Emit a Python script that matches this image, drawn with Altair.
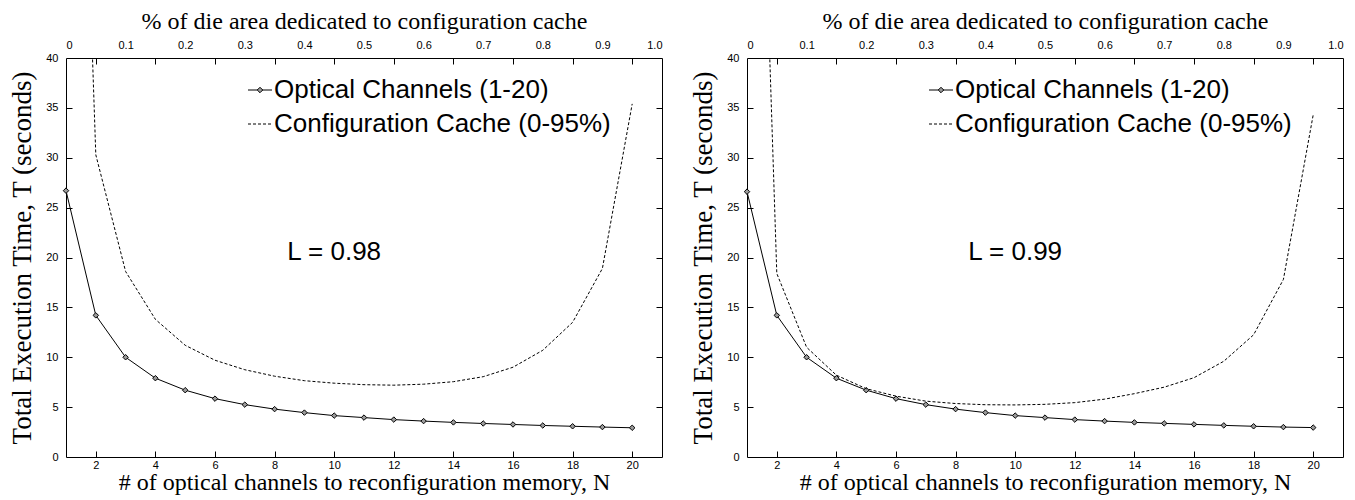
import altair as alt
import pandas as pd

# ---------------- data ----------------
N = list(range(1, 21))
opt_098 = [26.7, 14.2, 10.0, 7.9, 6.7, 5.85, 5.25, 4.8, 4.45, 4.15,
           3.95, 3.75, 3.6, 3.47, 3.36, 3.26, 3.16, 3.08, 3.0, 2.93]
opt_099 = [26.6, 14.2, 10.0, 7.9, 6.7, 5.85, 5.25, 4.8, 4.45, 4.15,
           3.95, 3.75, 3.6, 3.47, 3.37, 3.27, 3.17, 3.08, 3.0, 2.95]

cache_frac = [0.0, 0.05, 0.10, 0.15, 0.20, 0.25, 0.30, 0.35, 0.40, 0.45,
              0.50, 0.55, 0.60, 0.65, 0.70, 0.75, 0.80, 0.85, 0.90, 0.95]
cache_098 = [118.0, 30.3, 18.6, 13.8, 11.2, 9.7, 8.75, 8.1, 7.65, 7.4,
             7.25, 7.2, 7.3, 7.55, 8.05, 9.0, 10.7, 13.5, 18.9, 35.4]
cache_099 = [110.0, 18.4, 11.0, 8.2, 6.85, 6.1, 5.6, 5.36, 5.24, 5.22,
             5.28, 5.45, 5.8, 6.35, 7.0, 7.95, 9.6, 12.25, 17.8, 34.3]

x_tick_values = [2, 4, 6, 8, 10, 12, 14, 16, 18, 20]
top_tick_values = [0, 0.1, 0.2, 0.3, 0.4, 0.5, 0.6, 0.7, 0.8, 0.9, 1.0]
y_label_values = [0, 5, 10, 15, 20, 25, 30, 35, 40]
y_inner_ticks = [5, 10, 15, 20, 25, 30, 35]

legend_labels = ["Optical Channels (1-20)", "Configuration Cache (0-95%)"]
annotations = ["L = 0.98", "L = 0.99"]
annotation_pos = (10.0, 20.6)  # (N, T) where the label sits

x_title = "# of optical channels to reconfiguration memory, N"
y_title = "Total Execution Time, T (seconds)"
top_title = "% of die area dedicated to configuration cache"

SERIF = "Liberation Serif"
SANS = "Liberation Sans"
W, H = 596, 399


def panel(opt, cache, ann):
    df_opt = pd.DataFrame({"N": N, "T": opt})
    df_cache = pd.DataFrame({"f": cache_frac, "T": cache})
    df_ann = pd.DataFrame({"N": [annotation_pos[0]], "T": [annotation_pos[1]], "txt": [ann]})

    xN = alt.Scale(domain=[1, 21], nice=False, zero=False)
    xF = alt.Scale(domain=[0, 1], nice=False, zero=False)
    yS = alt.Scale(domain=[0, 40], nice=False)

    line = alt.Chart(df_opt).mark_line(color="black", strokeWidth=1).encode(
        x=alt.X("N:Q", scale=xN, axis=alt.Axis(
            orient="bottom", values=x_tick_values, ticks=False, domain=False, grid=False,
            labelPadding=2, labelFont=SANS, labelFontSize=11, labelColor="black",
            title=x_title, titleFont=SERIF, titleFontSize=24, titleFontWeight="normal",
            titleColor="black", titlePadding=0)),
        y=alt.Y("T:Q", scale=yS, axis=alt.Axis(
            orient="left", values=y_label_values, ticks=False, domain=False, grid=False,
            labelPadding=8, labelFlush=False, labelFont=SANS, labelFontSize=11, labelColor="black",
            title=y_title, titleFont=SERIF, titleFontSize=27, titleFontWeight="normal",
            titleColor="black", titlePadding=9)),
    )

    pts = alt.Chart(df_opt).mark_point(
        shape="diamond", size=30, filled=True, fill="#9a9a9a", stroke="black", strokeWidth=1, opacity=1
    ).encode(
        x=alt.X("N:Q", scale=xN, axis=alt.Axis(
            orient="bottom", offset=-6, values=x_tick_values, labels=False, domain=False,
            grid=False, ticks=True, tickSize=6, tickColor="black", title=None)),
        y=alt.Y("T:Q", scale=yS, axis=alt.Axis(
            orient="left", offset=-6, values=y_inner_ticks, labels=False, domain=False,
            grid=False, ticks=True, tickSize=6, tickColor="black", title=None)),
    )

    dashed = alt.Chart(df_cache).mark_line(
        color="black", strokeWidth=1, strokeDash=[3, 2], clip=True
    ).encode(
        x=alt.X("f:Q", scale=xF, axis=alt.Axis(
            orient="top", values=top_tick_values, ticks=False, domain=False, grid=False,
            labelPadding=8, labelFont=SANS, labelFontSize=11, labelColor="black",
            labelExpr="datum.value == 0 ? '0' : format(datum.value, '.1f')",
            title=top_title, titleFont=SERIF, titleFontSize=24, titleFontWeight="normal",
            titleColor="black", titlePadding=6)),
        y=alt.Y("T:Q", scale=yS, axis=alt.Axis(
            orient="right", offset=-6, values=y_inner_ticks, labels=False, domain=False,
            grid=False, ticks=True, tickSize=6, tickColor="black", title=None)),
    )

    ann_layer = alt.Chart(df_ann).mark_text(
        font=SANS, fontSize=26, color="black", align="center", baseline="middle"
    ).encode(
        x=alt.X("N:Q", scale=xN, axis=alt.Axis(
            orient="top", offset=-6, values=x_tick_values, labels=False, domain=False,
            grid=False, ticks=True, tickSize=6, tickColor="black", title=None)),
        y=alt.Y("T:Q", scale=yS, axis=None),
        text="txt:N",
    )

    df_leg1 = pd.DataFrame({"txt": [legend_labels[0]]})
    df_leg2 = pd.DataFrame({"txt": [legend_labels[1]]})
    leg_rule1 = alt.Chart(df_leg1).mark_rule(color="black", strokeWidth=1).encode(
        x=alt.value(182), x2=alt.value(206), y=alt.value(32))
    leg_pt1 = alt.Chart(df_leg1).mark_point(
        shape="diamond", size=30, filled=True, fill="#9a9a9a", stroke="black", strokeWidth=1, opacity=1
    ).encode(x=alt.value(194), y=alt.value(32))
    leg_txt1 = alt.Chart(df_leg1).mark_text(
        font=SANS, fontSize=26, color="black", align="left", baseline="middle"
    ).encode(x=alt.value(208), y=alt.value(32), text="txt:N")
    leg_rule2 = alt.Chart(df_leg2).mark_rule(color="black", strokeWidth=1, strokeDash=[3, 2]).encode(
        x=alt.value(182), x2=alt.value(206), y=alt.value(66))
    leg_txt2 = alt.Chart(df_leg2).mark_text(
        font=SANS, fontSize=26, color="black", align="left", baseline="middle"
    ).encode(x=alt.value(208), y=alt.value(66), text="txt:N")

    return alt.layer(
        line, pts, dashed, ann_layer, leg_rule1, leg_pt1, leg_txt1, leg_rule2, leg_txt2
    ).resolve_scale(x="independent", y="independent").resolve_axis(
        x="independent", y="independent"
    ).properties(width=W, height=H)


chart = alt.hconcat(
    panel(opt_098, cache_098, annotations[0]),
    panel(opt_099, cache_099, annotations[1]),
    spacing=26,
).properties(padding=0).configure_view(stroke="black", strokeWidth=1)

chart.save("out.html", embed_options={"renderer": "svg", "actions": False})
